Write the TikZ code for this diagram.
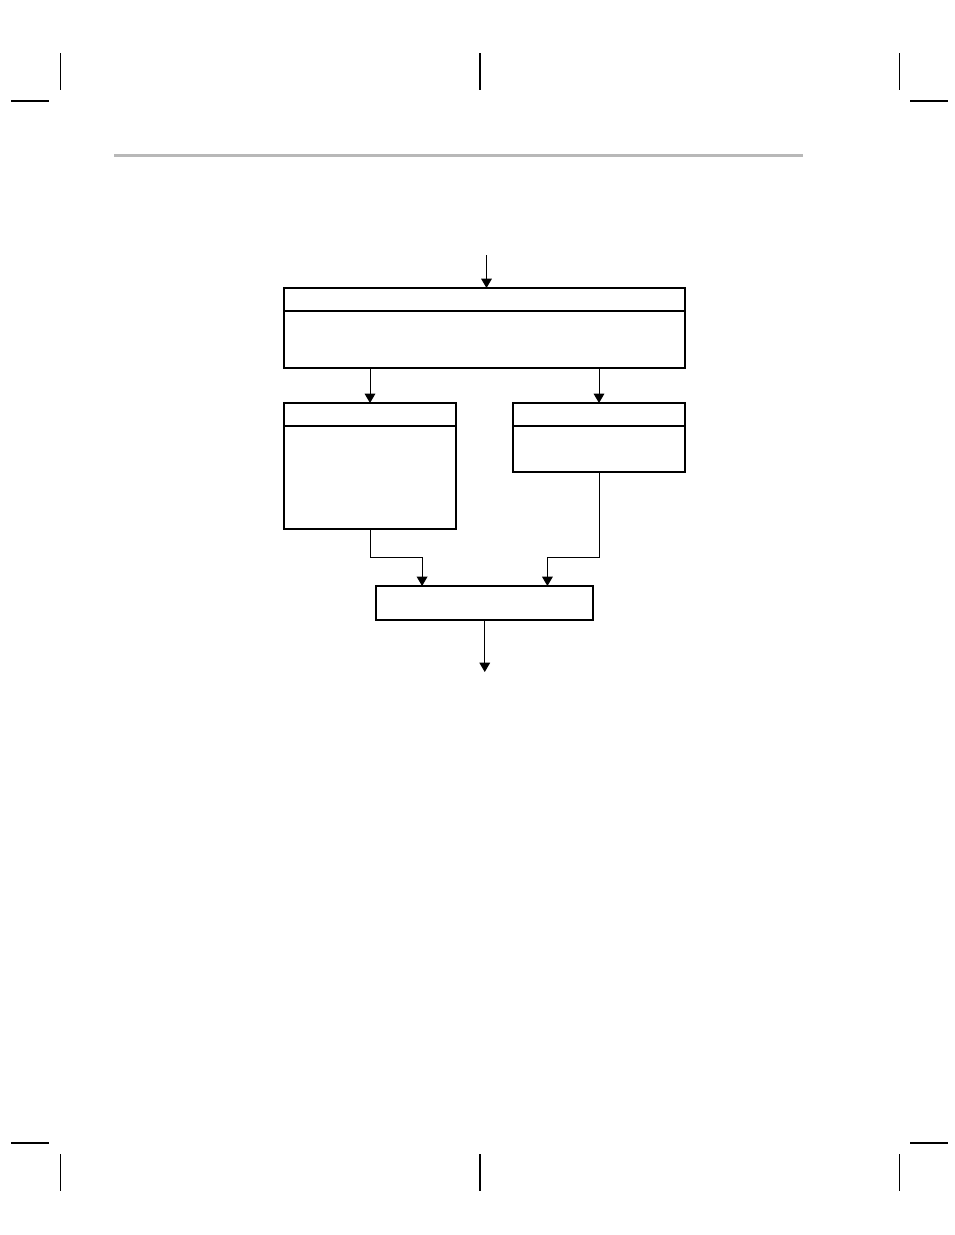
\documentclass[tikz,border=0pt]{standalone}
\usetikzlibrary{arrows.meta,positioning}
\begin{document}
\begin{tikzpicture}[x=0.75pt,y=-0.75pt,
    box/.style={draw,rectangle,line width=1.5pt,outer sep=0pt,inner sep=0pt,
      minimum width=129pt},
    headbox/.style={box,path picture={\draw[line width=1.5pt]
      ([yshift=-17.25pt]path picture bounding box.north west) --
      ([yshift=-17.25pt]path picture bounding box.north east);}},
    flow/.style={line width=0.75pt,-{Triangle[length=7pt,width=8pt]}},
    crop/.style={line width=1pt}]
  \useasboundingbox (0,0) rectangle (954,1235);
  \draw[line width=2.25pt,black!28] (114,155.3) -- (802.7,155.3);
  \foreach \x in {60.5,480,899.5}
    {\draw[crop] (\x,53) -- (\x,90);
     \draw[crop] (\x,1154) -- (\x,1191);}
  \foreach \y in {101,1143}
    {\draw[crop] (11,\y) -- (49,\y);
     \draw[crop] (910,\y) -- (948,\y);}
  \begin{scope}
    \node[headbox,minimum width=300.75pt,minimum height=60pt] (T) at (484.5,328) {};
    \node[headbox,minimum height=94.5pt] (L) [below right=26.25pt and 0pt of T.south west] {};
    \node[headbox,minimum height=51.75pt] (R) [below left=26.25pt and 0pt of T.south east] {};
    \node[box,minimum width=163pt,minimum height=25.5pt] (B) at (484.75,603) {};
    \coordinate (in) at (486.5,255);
    \coordinate (out) at (484.75,672);
  \end{scope}
  \begin{scope}[every path/.style={flow}]
    \draw (in) -- (in |- T.north);
    \draw (L.north |- T.south) -- (L.north);
    \draw (R.north |- T.south) -- (R.north);
    \draw (L.south) |- ([xshift=-47pt,yshift=21.3pt]B.north) -- ([xshift=-47pt]B.north);
    \draw (R.south) |- ([xshift=47pt,yshift=21.3pt]B.north) -- ([xshift=47pt]B.north);
    \draw (B.south) -- (out);
  \end{scope}
\end{tikzpicture}
\end{document}
